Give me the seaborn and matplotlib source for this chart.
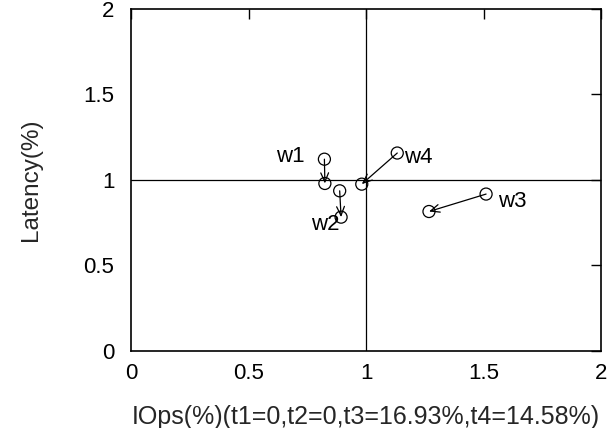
import matplotlib
matplotlib.use("Agg")
import matplotlib.pyplot as plt
import seaborn as sns
import pandas as pd

# Workload movement: from the start point (open circle) to the end point
workloads = ["w1", "w2", "w3", "w4"]
iops_start = [0.823, 0.888, 1.511, 1.133]
lat_start = [1.120, 0.935, 0.916, 1.156]
iops_end = [0.825, 0.894, 1.268, 0.982]
lat_end = [0.978, 0.781, 0.814, 0.974]

x_ticks = [0, 0.5, 1, 1.5, 2]
y_ticks = [0, 0.5, 1, 1.5, 2]
x_label = "IOps(%)(t1=0,t2=0,t3=16.93%,t4=14.58%)"
y_label = "Latency(%)"

# label offsets (points) relative to the anchor point of each workload
label_anchor = ["start", "end", "start", "start"]
label_offset = [(-24.3, -1.9), (-11.5, -9.1), (18.7, -9.1), (14.9, -7.0)]

sns.set_style("white")
plt.rcParams["font.family"] = ["Liberation Sans", "DejaVu Sans"]

fig = plt.figure(figsize=(6.08, 4.28), dpi=100)
ax = fig.add_axes([131 / 608, 1 - 350.7 / 428, 470 / 608, 342 / 428])

points = pd.DataFrame({
    "iops": iops_start + iops_end,
    "latency": lat_start + lat_end,
})
sns.scatterplot(data=points, x="iops", y="latency", ax=ax, marker="o",
                s=75, facecolor="none", edgecolor="black", linewidth=0.9,
                zorder=3)

for i, name in enumerate(workloads):
    ax.annotate("", xy=(iops_end[i], lat_end[i]),
                xytext=(iops_start[i], lat_start[i]),
                arrowprops=dict(arrowstyle="->,head_length=0.65,head_width=0.28",
                                color="black", lw=0.9,
                                shrinkA=0, shrinkB=0),
                zorder=4)
    if label_anchor[i] == "start":
        ax_pt = (iops_start[i], lat_start[i])
    else:
        ax_pt = (iops_end[i], lat_end[i])
    ax.annotate(name, xy=ax_pt, xytext=label_offset[i],
                textcoords="offset points", ha="center", va="baseline",
                fontsize=16, color="black", zorder=5)

ax.axvline(1, color="black", lw=0.9, zorder=1)
ax.axhline(1, color="black", lw=0.9, zorder=1)

ax.set_xlim(0, 2)
ax.set_ylim(0, 2)
ax.set_xticks(x_ticks)
ax.set_yticks(y_ticks)
ax.set_xticklabels([f"{t:g}" for t in x_ticks])
ax.set_yticklabels([f"{t:g}" for t in y_ticks])
ax.tick_params(direction="in", length=7, width=1.0, top=True, right=True,
               labelsize=16, colors="black")
ax.tick_params(axis="x", pad=9)
ax.tick_params(axis="y", pad=12)
for s in ax.spines.values():
    s.set_visible(True)
    s.set_color("black")
    s.set_linewidth(1.2)

ax.set_xlabel(x_label, fontsize=18, labelpad=15)
ax.set_ylabel(y_label, fontsize=17.5, labelpad=30)

fig.savefig("out.png", dpi=100)
